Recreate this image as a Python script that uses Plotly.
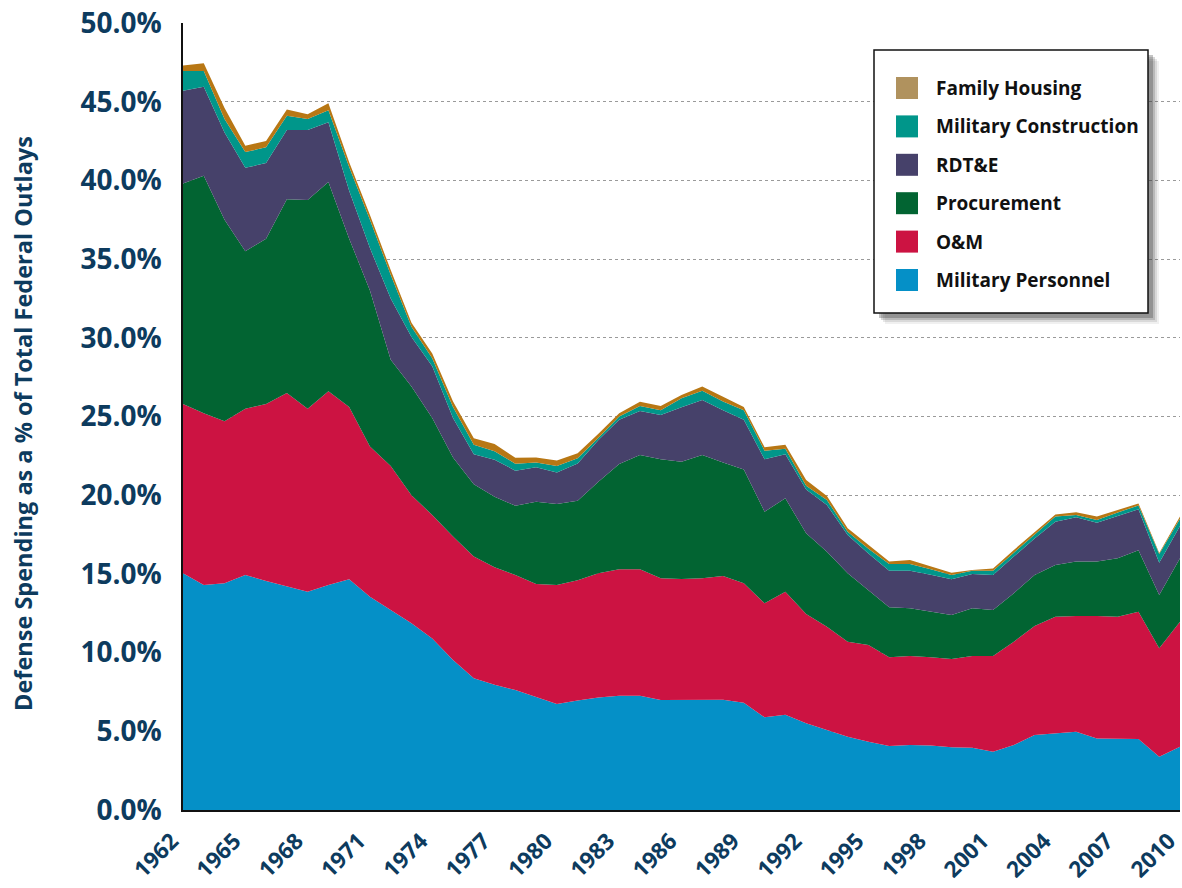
import plotly.graph_objects as go

years = list(range(1962, 2011))

military_personnel = [15.04, 14.3, 14.4, 14.93, 14.55, 14.2, 13.87, 14.3, 14.66, 13.55,
                      12.7, 11.86, 10.9, 9.53, 8.37, 7.95, 7.62, 7.2, 6.73, 6.95,
                      7.14, 7.26, 7.26, 6.99, 7.0, 7.0, 7.0, 6.82, 5.89, 6.05,
                      5.51, 5.08, 4.66, 4.34, 4.07, 4.13, 4.1, 3.98, 3.96, 3.7,
                      4.13, 4.76, 4.87, 4.97, 4.55, 4.53, 4.51, 3.39, 4.02]
o_and_m = [10.76, 10.9, 10.3, 10.57, 11.25, 12.3, 11.63, 12.3, 10.94, 9.55,
           9.15, 8.14, 7.84, 7.84, 7.73, 7.47, 7.31, 7.16, 7.57, 7.65,
           7.9, 8.03, 8.03, 7.73, 7.68, 7.72, 7.87, 7.58, 7.24, 7.82,
           6.94, 6.57, 6.03, 6.14, 5.63, 5.65, 5.6, 5.61, 5.82, 6.08,
           6.56, 6.93, 7.41, 7.36, 7.78, 7.75, 8.09, 6.88, 7.94]
procurement = [14.0, 15.1, 12.8, 10.0, 10.5, 12.3, 13.25, 13.3, 10.7, 9.9,
               6.75, 6.9, 6.16, 5.03, 4.6, 4.48, 4.4, 5.23, 5.14, 5.05,
               5.82, 6.69, 7.26, 7.56, 7.45, 7.83, 7.2, 7.24, 5.82, 5.93,
               5.13, 4.76, 4.35, 3.5, 3.18, 3.03, 2.9, 2.8, 3.03, 2.93,
               3.08, 3.24, 3.29, 3.45, 3.45, 3.71, 3.9, 3.39, 4.03]
rdte = [5.9, 5.65, 5.55, 5.3, 4.8, 4.4, 4.45, 3.8, 3.05, 2.7,
        3.9, 3.15, 3.3, 2.5, 1.9, 2.35, 2.23, 2.18, 2.01, 2.37,
        2.64, 2.82, 2.8, 2.82, 3.45, 3.5, 3.33, 3.16, 3.33, 2.8,
        2.79, 2.97, 2.43, 2.32, 2.32, 2.39, 2.35, 2.27, 2.18, 2.22,
        2.33, 2.32, 2.75, 2.82, 2.47, 2.66, 2.6, 2.05, 2.05]
military_construction = [1.25, 1.0, 0.85, 1.0, 1.0, 0.9, 0.7, 0.75, 1.5, 1.8,
                         1.5, 0.65, 0.5, 0.7, 0.6, 0.55, 0.44, 0.3, 0.41, 0.32,
                         0.15, 0.2, 0.32, 0.3, 0.58, 0.59, 0.55, 0.6, 0.55, 0.35,
                         0.23, 0.32, 0.21, 0.3, 0.43, 0.43, 0.35, 0.27, 0.21, 0.27,
                         0.25, 0.25, 0.32, 0.14, 0.17, 0.25, 0.25, 0.55, 0.46]
family_housing = [0.35, 0.5, 0.7, 0.4, 0.4, 0.4, 0.3, 0.45, 0.3, 0.3,
                  0.3, 0.25, 0.3, 0.35, 0.42, 0.45, 0.38, 0.33, 0.34, 0.32,
                  0.25, 0.2, 0.27, 0.27, 0.21, 0.26, 0.31, 0.2, 0.21, 0.25,
                  0.37, 0.25, 0.22, 0.24, 0.15, 0.25, 0.16, 0.15, 0.05, 0.15,
                  0.17, 0.18, 0.14, 0.17, 0.22, 0.16, 0.13, 0.07, 0.14]

series = [
    ("Military Personnel", military_personnel, "#0590c7", "#0590c7"),
    ("O&M", o_and_m, "#cc1342", "#cc1342"),
    ("Procurement", procurement, "#026432", "#026432"),
    ("RDT&E", rdte, "#46416a", "#46416a"),
    ("Military Construction", military_construction, "#00968a", "#00968a"),
    ("Family Housing", family_housing, "#b87714", "#b0925e"),
]

x_ticks = list(range(1962, 2011, 3))
y_ticks = list(range(0, 51, 5))

NAVY = "#0d3b5e"
FONT = "Open Sans"

fig = go.Figure()
for name, vals, fill, _ in series:
    fig.add_trace(go.Scatter(
        x=years, y=vals, name=name, mode="lines", stackgroup="one",
        line=dict(width=0, color=fill), fillcolor=fill, showlegend=False,
        hovertemplate=name + ": %{y:.2f}%<extra></extra>",
    ))

W, H = 1182, 888
L, R, T, B = 183, 1180, 23, 810   # plot area in pixels
def px(x):
    return (x - L) / (R - L)
def py(y):
    return (B - y) / (B - T)

shapes = []
annotations = []
bx0, bx1, by0, by1 = 874, 1148, 50, 313
for off, op in [(11, 0.08), (9, 0.12), (7, 0.2), (5, 0.3)]:
    shapes.append(dict(type="rect", xref="paper", yref="paper",
                       x0=px(bx0 + off), x1=px(bx1 + off), y0=py(by1 + off), y1=py(by0 + off),
                       fillcolor=f"rgba(60,60,60,{op})", line=dict(width=0), layer="above"))
shapes.append(dict(type="rect", xref="paper", yref="paper",
                   x0=px(bx0), x1=px(bx1), y0=py(by1), y1=py(by0),
                   fillcolor="white", line=dict(color="#111111", width=1.5), layer="above"))
legend_order = list(reversed(series))
for i, (name, _, _, swatch) in enumerate(legend_order):
    cy = 88 + i * 38.4
    shapes.append(dict(type="rect", xref="paper", yref="paper",
                       x0=px(896), x1=px(918), y0=py(cy + 11), y1=py(cy - 11),
                       fillcolor=swatch, line=dict(width=0), layer="above"))
    annotations.append(dict(xref="paper", yref="paper", x=px(934), y=py(cy),
                            xanchor="left", yanchor="middle", showarrow=False,
                            text=name, font=dict(family=FONT, size=19, color="#111111", weight=700)))

annotations.append(dict(xref="paper", yref="paper", x=px(23), y=py(424),
                        xanchor="center", yanchor="middle", showarrow=False, textangle=-90,
                        text="Defense Spending as a % of Total Federal Outlays",
                        font=dict(family=FONT, size=23.5, color=NAVY, weight=700)))

fig.update_layout(
    width=W, height=H,
    margin=dict(l=L, r=W - R, t=T, b=H - B),
    paper_bgcolor="white", plot_bgcolor="white",
    shapes=shapes, annotations=annotations,
    xaxis=dict(range=[1962, 2010], tickvals=x_ticks, ticktext=[str(t) for t in x_ticks],
               tickangle=-45, showgrid=False, zeroline=False, automargin=False,
               ticklabeloverflow="allow", ticklabelshift=-11,
               showline=True, linecolor="#111111", linewidth=2,
               ticks="outside", ticklen=7, tickcolor="rgba(0,0,0,0)",
               tickfont=dict(family=FONT, size=22.5, color=NAVY, weight=700)),
    yaxis=dict(range=[0, 50], tickvals=y_ticks, ticktext=[f"{t:.1f}%" for t in y_ticks],
               showgrid=True, gridcolor="#9a9a9a", griddash="dot", gridwidth=1,
               zeroline=False, showline=True, linecolor="#111111", linewidth=1.5,
               automargin=False, ticklabeloverflow="allow",
               ticks="outside", ticklen=14, tickcolor="rgba(0,0,0,0)",
               tickfont=dict(family=FONT, size=28, color=NAVY, weight=700)),
)

fig.write_html("out.html", config={"displayModeBar": False},
               post_script="document.body.style.margin='0';")
